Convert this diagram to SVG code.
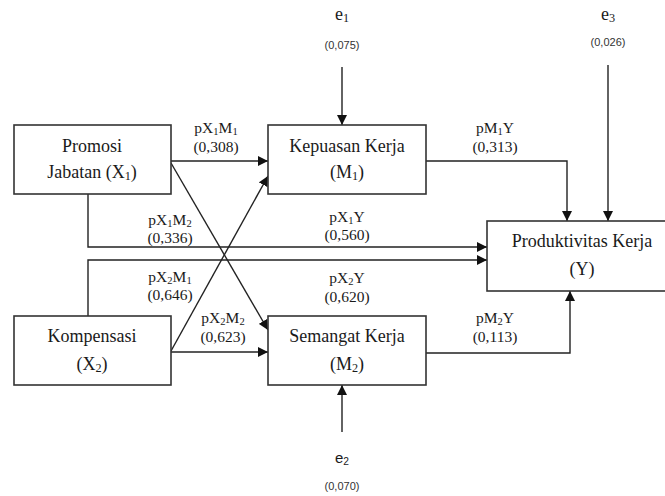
<svg xmlns="http://www.w3.org/2000/svg" width="665" height="496" viewBox="0 0 665 496">
<defs>
<marker id="ah" markerUnits="userSpaceOnUse" markerWidth="10" markerHeight="10" viewBox="0 0 10 10" refX="10" refY="5" orient="auto">
<path d="M0,0 L10,5 L0,10 z" fill="#111"/>
</marker>
</defs>
<style>
.box{fill:#fff;stroke:#333;stroke-width:1.6}
.ln{fill:none;stroke:#222;stroke-width:1.4}
.t{font-family:'Liberation Serif','Times New Roman',serif;font-size:18px;fill:#1a1a1a;text-anchor:middle}
.l{font-family:'Liberation Serif','Times New Roman',serif;font-size:15.5px;fill:#1a1a1a;text-anchor:middle}
.s{font-family:'Liberation Sans',Arial,sans-serif;font-size:11px;fill:#333;text-anchor:middle}
.e{font-family:'Liberation Sans',Arial,sans-serif;font-size:15px;fill:#1a1a1a;text-anchor:middle}
.sub{font-size:0.68em}
</style>
<rect width="665" height="496" fill="#fff"/>
<g id="connectors">
<line class="ln" x1="171" y1="161" x2="268" y2="161" marker-end="url(#ah)"/>
<line class="ln" x1="171" y1="163" x2="268" y2="330" marker-end="url(#ah)"/>
<line class="ln" x1="171" y1="351" x2="268" y2="176" marker-end="url(#ah)"/>
<line class="ln" x1="171" y1="352" x2="268" y2="352" marker-end="url(#ah)"/>
<polyline class="ln" points="88,194 88,247 487,247" marker-end="url(#ah)"/>
<polyline class="ln" points="88,316 88,260 487,260" marker-end="url(#ah)"/>
<polyline class="ln" points="426,161 567,161 567,221" marker-end="url(#ah)"/>
<polyline class="ln" points="426,353 570,353 570,291" marker-end="url(#ah)"/>
<line class="ln" x1="342" y1="67" x2="342" y2="125" marker-end="url(#ah)"/>
<line class="ln" x1="608" y1="65" x2="608" y2="221" marker-end="url(#ah)"/>
<line class="ln" x1="342" y1="432" x2="342" y2="385" marker-end="url(#ah)"/>
<text class="l" x="216" y="133">pX<tspan class="sub" dy="2">1</tspan><tspan dy="-2">M</tspan><tspan class="sub" dy="2">1</tspan></text>
<text class="l" x="216" y="152">(0,308)</text>
<text class="l" x="170" y="225">pX<tspan class="sub" dy="2">1</tspan><tspan dy="-2">M</tspan><tspan class="sub" dy="2">2</tspan></text>
<text class="l" x="170" y="243">(0,336)</text>
<text class="l" x="170" y="282">pX<tspan class="sub" dy="2">2</tspan><tspan dy="-2">M</tspan><tspan class="sub" dy="2">1</tspan></text>
<text class="l" x="170" y="300">(0,646)</text>
<text class="l" x="223" y="323">pX<tspan class="sub" dy="2">2</tspan><tspan dy="-2">M</tspan><tspan class="sub" dy="2">2</tspan></text>
<text class="l" x="223" y="342">(0,623)</text>
<text class="l" x="347" y="222">pX<tspan class="sub" dy="2">1</tspan><tspan dy="-2">Y</tspan></text>
<text class="l" x="347" y="240">(0,560)</text>
<text class="l" x="347" y="283">pX<tspan class="sub" dy="2">2</tspan><tspan dy="-2">Y</tspan></text>
<text class="l" x="347" y="302">(0,620)</text>
<text class="l" x="495" y="133">pM<tspan class="sub" dy="2">1</tspan><tspan dy="-2">Y</tspan></text>
<text class="l" x="495" y="152">(0,313)</text>
<text class="l" x="495" y="323">pM<tspan class="sub" dy="2">2</tspan><tspan dy="-2">Y</tspan></text>
<text class="l" x="495" y="342">(0,113)</text>
</g>
<g id="e1">
<text class="t" x="342" y="20">e<tspan class="sub" dy="2">1</tspan></text>
<text class="s" x="342" y="49">(0,075)</text>
</g>
<g id="e3">
<text class="t" x="608" y="20">e<tspan class="sub" dy="2">3</tspan></text>
<text class="s" x="608" y="46">(0,026)</text>
</g>
<g id="e2">
<text class="e" x="342" y="463">e<tspan class="sub" dy="2">2</tspan></text>
<text class="s" x="342" y="490">(0,070)</text>
</g>
<g id="X1">
<rect class="box" x="14" y="125" width="157" height="69"/>
<text class="t" x="92" y="152">Promosi</text>
<text class="t" x="92" y="178">Jabatan (X<tspan class="sub" dy="2">1</tspan><tspan dy="-2">)</tspan></text>
</g>
<g id="X2">
<rect class="box" x="14" y="316" width="157" height="69"/>
<text class="t" x="92" y="342">Kompensasi</text>
<text class="t" x="92" y="370">(X<tspan class="sub" dy="2">2</tspan><tspan dy="-2">)</tspan></text>
</g>
<g id="M1">
<rect class="box" x="268" y="125" width="158" height="69"/>
<text class="t" x="347" y="152">Kepuasan Kerja</text>
<text class="t" x="347" y="178">(M<tspan class="sub" dy="2">1</tspan><tspan dy="-2">)</tspan></text>
</g>
<g id="M2">
<rect class="box" x="268" y="316" width="158" height="69"/>
<text class="t" x="347" y="342">Semangat Kerja</text>
<text class="t" x="347" y="370">(M<tspan class="sub" dy="2">2</tspan><tspan dy="-2">)</tspan></text>
</g>
<g id="Y">
<rect class="box" x="487" y="221" width="190" height="70"/>
<text class="t" x="582" y="247">Produktivitas Kerja</text>
<text class="t" x="582" y="275">(Y)</text>
</g>
</svg>
